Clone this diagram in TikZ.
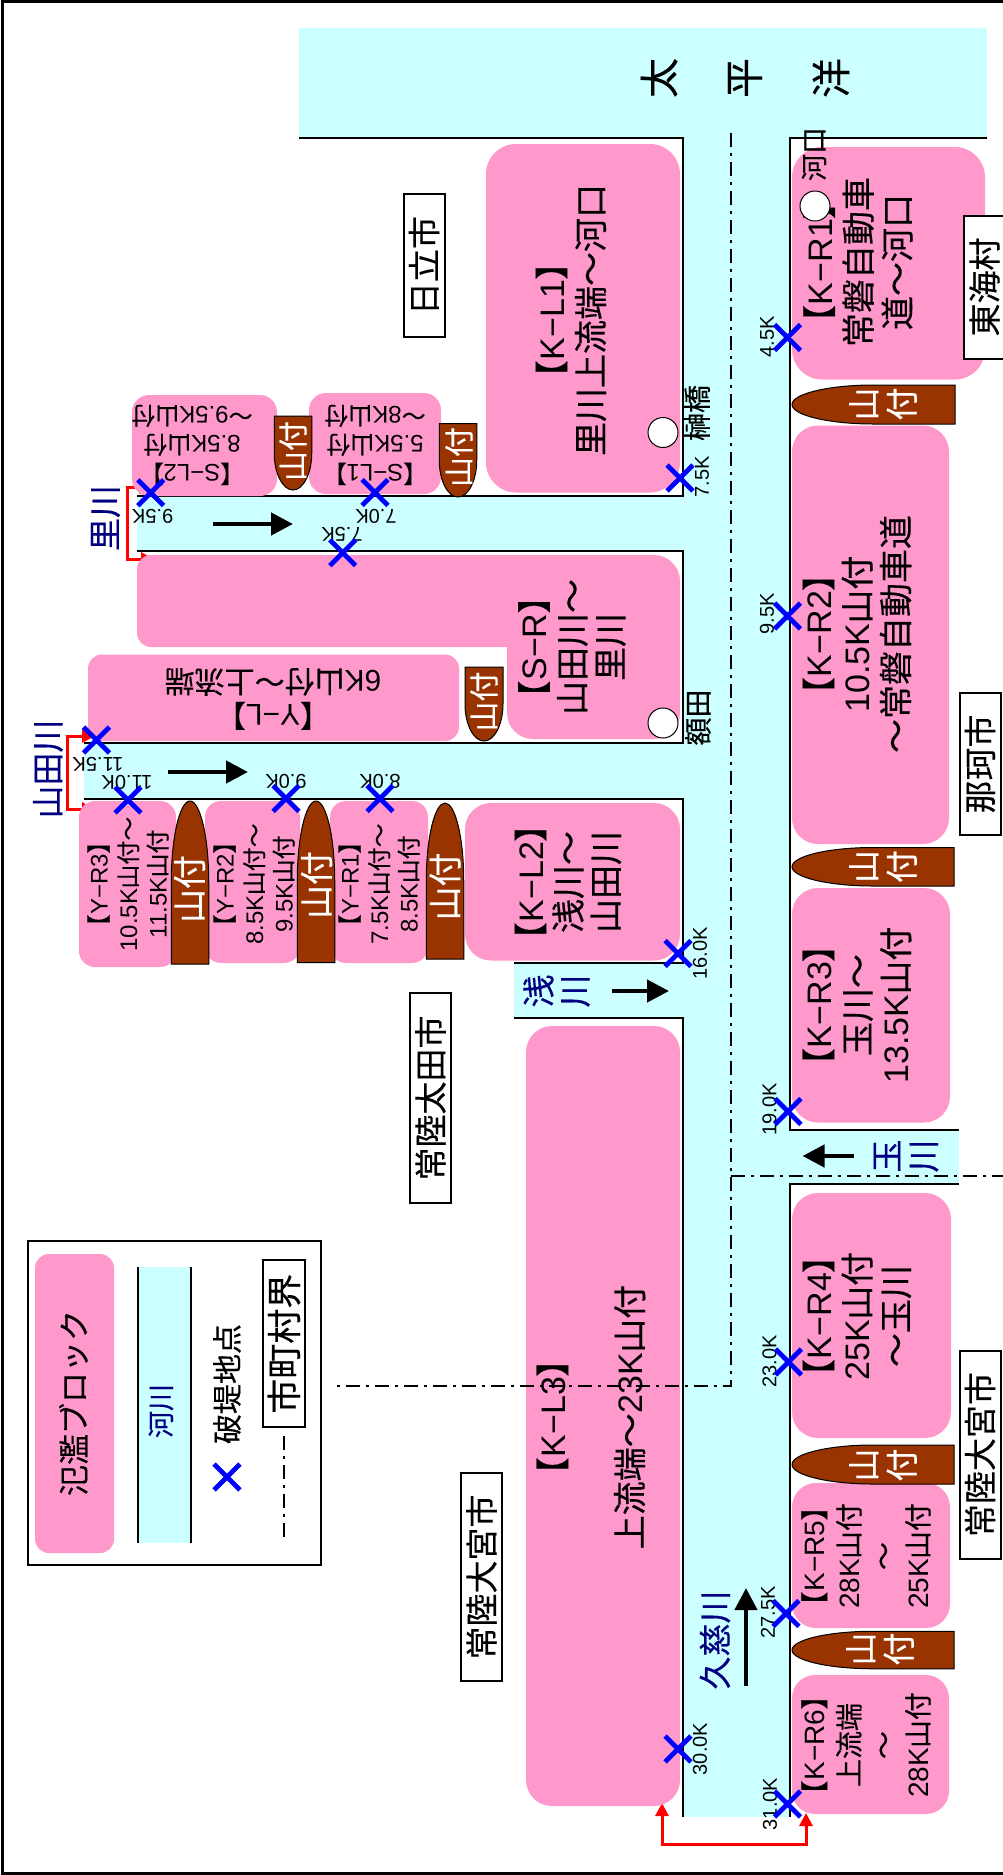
\documentclass[tikz,border=0pt]{standalone}
\usepackage{fontspec}
\usetikzlibrary{arrows.meta,shapes.misc}
\setmainfont{Liberation Sans}
\newfontfamily\jp[FakeBold=0.3]{Noto Sans CJK JP}
\newcommand\J[1]{{\jp #1}}
\newcommand\lb{{\jp 【}}
\newcommand\rb{{\jp 】}}
\newcommand\wv{{\jp ～}}
\newcommand\ymt{{\jp 山付}}
\definecolor{blockpink}{HTML}{FF99CC}
\definecolor{rivercyan}{HTML}{CCFFFF}
\definecolor{yamabrown}{HTML}{993300}
\definecolor{rivernavy}{HTML}{000080}
\newcommand\fsz[2]{\fontsize{#1pt}{#2pt}\selectfont}
\newcommand\yama[5]{%
  \begin{scope}[shift={(#1,#2)},rotate=#3]
  \draw[yamashape] (0,-#5/2) -- (-#4/2,-#5/2) .. controls (-#4*0.775,-#5/2) and (-#4,-#5*0.275) .. (-#4,0)
     .. controls (-#4,#5*0.275) and (-#4*0.775,#5/2) .. (-#4/2,#5/2) -- (0,#5/2) -- cycle;
  \end{scope}}
\tikzset{
  x=1pt,y=-1pt,
  block/.style={fill=blockpink},
  river/.style={fill=rivercyan},
  bank/.style={draw=black,line width=2pt},
  yamashape/.style={draw=black,line width=1pt,fill=yamabrown},
  tx/.style={rotate=90,align=center,inner sep=0pt,text=black},
  tu/.style={rotate=180,align=center,inner sep=0pt,text=black},
  ymtext/.style={tx,text=white},
  rivername/.style={tx,text=rivernavy,font=\fsz{33}{37}\jp},
  km/.style={tx,font=\fsz{20}{22}},
  kmu/.style={tu,font=\fsz{20}{22}},
  city/.style={rotate=90,draw=black,line width=2pt,fill=white,inner sep=0pt,minimum height=41pt,font=\fsz{33}{37}\jp},
  breach/.style={cross out,draw=blue,line width=4.8pt,minimum width=21pt,minimum height=21pt,inner sep=0pt},
  bridge/.style={circle,draw=black,line width=1pt,fill=white,minimum size=30pt,inner sep=0pt},
  flow/.style={line width=4.5pt,-{Triangle[length=22pt,width=22pt]},draw=black},
  redline/.style={draw=red,line width=3pt,{Triangle[length=13pt,width=13pt]}-{Triangle[length=13pt,width=13pt]}},
  border/.style={draw=black,line width=2pt,dash pattern=on 14pt off 6pt on 3pt off 6pt},
}
\begin{document}
\begin{tikzpicture}
\clip (0,0) rectangle (1003,1875);
\fill[white] (0,0) rectangle (1003,1875);
\draw[black,line width=3pt] (2,1.5) rectangle (1010,1873);
% water
\fill[river] (299,28) rectangle (987,138);
\fill[river] (683,138) rectangle (790,1817);
\fill[river] (137,496) rectangle (683,551);
\fill[river] (84,743) rectangle (683,799);
\fill[river] (514,963) rectangle (683,1018);
\fill[river] (790,1130) rectangle (959,1184);
% red brackets
\coordinate (ra1) at (662,1803); \coordinate (ra2) at (662,1844);
\coordinate (ra3) at (806,1844); \coordinate (ra4) at (806,1813);
\draw[redline] (ra1) -- (ra2) -- (ra3) -- (ra4);
\coordinate (rb1) at (152,487); \coordinate (rb2) at (127.5,487);
\coordinate (rb3) at (127.5,559); \coordinate (rb4) at (154,559);
\draw[redline] (rb1) -- (rb2) -- (rb3) -- (rb4);
\coordinate (rc1) at (95,736); \coordinate (rc2) at (67,736);
\coordinate (rc3) at (67,809); \coordinate (rc4) at (95,809);
\draw[redline] (rc1) -- (rc2) -- (rc3) -- (rc4);
% banks
\draw[bank] (299,138) -- (683,138) -- (683,496) -- (137,496);
\draw[bank] (137,551) -- (683,551) -- (683,743) -- (84,743);
\draw[bank] (84,799) -- (683,799) -- (683,963) -- (514,963);
\draw[bank] (514,1018) -- (683,1018) -- (683,1817);
\draw[bank] (987,138) -- (790,138) -- (790,1130) -- (959,1130);
\draw[bank] (959,1184) -- (790,1184) -- (790,1817);
% flood blocks
\fill[block,rounded corners=30pt] (486,144) rectangle (680,492.5);
\fill[block,rounded corners=30pt] (792,147) rectangle (985,379.5);
\fill[block,rounded corners=17pt] (132,395) rectangle (277,496);
\fill[block,rounded corners=17pt] (309,393) rectangle (441,494);
\fill[block,rounded corners=14pt] (137,555) rectangle (650,647);
\fill[block,rounded corners=26pt] (507,555) rectangle (680,739);
\fill[block,rounded corners=14pt] (88,654.5) rectangle (459,741);
\fill[block,rounded corners=26pt] (792,425.5) rectangle (949,844);
\fill[block,rounded corners=26pt] (792,888) rectangle (950,1122.5);
\fill[block,rounded corners=26pt] (792,1193) rectangle (951,1438);
\fill[block,rounded corners=24pt] (792,1483) rectangle (950,1628);
\fill[block,rounded corners=23pt] (792,1675) rectangle (949,1814);
\fill[block,rounded corners=26pt] (526,1026) rectangle (680,1806);
\fill[block,rounded corners=26pt] (465,803) rectangle (680,960.5);
\fill[block,rounded corners=16pt] (79,801) rectangle (176,967);
\fill[block,rounded corners=16pt] (205,801) rectangle (300,963);
\fill[block,rounded corners=16pt] (330,801) rectangle (428,963);
% hills
\yama{955}{404.5}{0}{163}{39}
\yama{954}{866.75}{0}{162}{38.5}
\yama{954}{1464.5}{0}{162}{39}
\yama{954}{1650}{0}{162}{37.5}
\yama{293}{416}{90}{74}{37.5}
\yama{458}{423.5}{90}{73.5}{37.5}
\yama{484}{667}{90}{74}{38}
\yama{190}{964}{-90}{163}{37.5}
\yama{316}{962.5}{-90}{161.5}{37.5}
\yama{445}{959}{-90}{156}{37.5}
% boundary lines
\coordinate (ba) at (730.5,133); \coordinate (bb) at (730.5,1386); \coordinate (bc) at (331,1386);
\coordinate (bd) at (730.5,1176); \coordinate (be) at (1003,1176);
\draw[border] (ba) -- (bb) -- (bc);
\draw[border] (bd) -- (be);
% sea
\node[tx,font=\fsz{40}{44}\jp] (sea1) at (659,78) {太};
\node[tx,font=\fsz{40}{44}\jp] (sea2) at (745,78) {平};
\node[tx,font=\fsz{40}{44}\jp] (sea3) at (831,78) {洋};
% block labels
\node[tx,font=\fsz{34}{39}] (kl1) at (571,320) {\lb K−L1\rb\\\J{里川上流端～河口}};
\node[tx,font=\fsz{34}{39}] (kr1) at (858,262) {\lb K−R1\rb\\\J{常磐自動車}\\\J{道～河口}};
\node[tx,font=\fsz{34}{38}] (sr) at (572,647) {\lb S−R\rb\\\J{山田川～}\\\J{里川}};
\node[tx,font=\fsz{34}{38.5}] (kr2) at (857,634) {\lb K−R2\rb\\10.5K\ymt\\\J{～常磐自動車道}};
\node[tx,font=\fsz{34}{38.5}] (kr3) at (857,1005) {\lb K−R3\rb\\\J{玉川～}\\13.5K\ymt};
\node[tx,font=\fsz{34}{38.5}] (kr4) at (857,1316) {\lb K−R4\rb\\25K\ymt\\\J{～玉川}};
\node[tx,font=\fsz{28}{34.5}] (kr5) at (866,1556) {\lb K−R5\rb\\28K\ymt\\\J{～}\\25K\ymt};
\node[tx,font=\fsz{28}{34.5}] (kr6) at (866,1745) {\lb K−R6\rb\\\J{上流端}\\\J{～}\\28K\ymt};
\node[tx,font=\fsz{34}{39}] (kl3) at (591,1417) {\lb K−L3\rb\\[38pt]\J{上流端～}23K\ymt};
\node[tx,font=\fsz{34}{37.5}] (kl2) at (568,882) {\lb K−L2\rb\\\J{浅川～}\\\J{山田川}};
\node[tx,font=\fsz{24}{29.5}] (yr3) at (128,884) {\lb Y−R3\rb\\10.5K\ymt\wv\\11.5K\ymt};
\node[tx,font=\fsz{24}{29.5}] (yr2) at (254,884) {\lb Y−R2\rb\\8.5K\ymt\wv\\9.5K\ymt};
\node[tx,font=\fsz{24}{29.5}] (yr1) at (379,884) {\lb Y−R1\rb\\7.5K\ymt\wv\\8.5K\ymt};
\node[tu,font=\fsz{24}{29}] (sl2) at (192,445) {\lb S−L2\rb\\8.5K\ymt\\\wv 9.5K\ymt};
\node[tu,font=\fsz{24}{29}] (sl1) at (375,445) {\lb S−L1\rb\\5.5K\ymt\\\wv 8K\ymt};
\node[tu,font=\fsz{30}{34}] (yl) at (273,699) {\lb Y−L\rb\\6K\ymt\J{～上流端}};
% hill labels
\node[ymtext,font=\fsz{33}{38}\jp] (y1) at (883,404) {山\\付};
\node[ymtext,font=\fsz{33}{38}\jp] (y2) at (883,866.5) {山\\付};
\node[ymtext,font=\fsz{33}{38}\jp] (y3) at (883,1465) {山\\付};
\node[ymtext,font=\fsz{33}{38}\jp] (y4) at (880,1649) {山\\付};
\node[ymtext,font=\fsz{30}{30}\jp] (y5) at (293,451) {山付};
\node[ymtext,font=\fsz{30}{30}\jp] (y6) at (459,457) {山付};
\node[ymtext,font=\fsz{30}{30}\jp] (y7) at (484,701.5) {山付};
\node[ymtext,font=\fsz{34}{36}\jp] (y8) at (189.5,889) {山付};
\node[ymtext,font=\fsz{34}{36}\jp] (y9) at (316.5,885) {山付};
\node[ymtext,font=\fsz{34}{36}\jp] (y10) at (445,886.5) {山付};
% river names
\node[rivername] (n1) at (715,1640) {久慈川};
\node[rivername] (n2) at (105.5,518) {里川};
\node[rivername] (n3) at (48,769) {山田川};
\node[rivername] (n4) at (538.5,991) {浅};
\node[rivername] (n4b) at (575.5,991) {川};
\node[rivername] (n5) at (887,1156) {玉};
\node[rivername] (n5b) at (924,1156) {川};
% flow arrows
\coordinate (fa1) at (212.5,524); \coordinate (fa2) at (293,524);
\coordinate (fb1) at (167.5,772); \coordinate (fb2) at (248,772);
\coordinate (fc1) at (612,991); \coordinate (fc2) at (669,991);
\coordinate (fd1) at (854,1156); \coordinate (fd2) at (802.5,1156);
\coordinate (fe1) at (746,1685.5); \coordinate (fe2) at (746,1588);
\draw[flow] (fa1) -- (fa2);
\draw[flow] (fb1) -- (fb2);
\draw[flow] (fc1) -- (fc2);
\draw[flow] (fd1) -- (fd2);
\draw[flow] (fe1) -- (fe2);
% place labels
\node[tx,font=\fsz{27}{30}\jp] (river1) at (814,154) {河口};
\node[tx,font=\fsz{28}{30}\jp] (br1) at (697,413) {榊橋};
\node[tx,font=\fsz{28}{30}\jp] (br2) at (698,717.5) {額田};
\node[bridge] (c1) at (815,206) {};
\node[bridge] (c2) at (663,432.5) {};
\node[bridge] (c3) at (663,723) {};
% km labels
\node[km] at (702,477) (k1) {7.5K};
\node[km] at (767,337) (k2) {4.5K};
\node[km] at (767,614) (k3) {9.5K};
\node[kmu] at (152.7,516) (k4) {9.5K};
\node[kmu] at (376,516) (k5) {7.0K};
\node[kmu] at (342,534) (k6) {7.5K};
\node[kmu] at (98,764) (k7) {11.5K};
\node[kmu] at (127,782) (k8) {11.0K};
\node[kmu] at (286,781) (k9) {9.0K};
\node[kmu] at (380,781) (k10) {8.0K};
\node[km] at (700,953.5) (k11) {16.0K};
\node[km] at (769.5,1109.5) (k12) {19.0K};
\node[km] at (769.5,1361.5) (k13) {23.0K};
\node[km] at (768,1612.5) (k14) {27.5K};
\node[km] at (700,1749) (k15) {30.0K};
\node[km] at (770,1804) (k16) {31.0K};
% breach marks
\node[breach] (x1) at (680,478) {};
\node[breach] (x2) at (787.5,337.5) {};
\node[breach] (x3) at (787.5,616) {};
\node[breach] (x4) at (150.7,492.7) {};
\node[breach] (x5) at (375,492.5) {};
\node[breach] (x6) at (342.7,552.7) {};
\node[breach] (x7) at (96.5,740) {};
\node[breach] (x8) at (128,800) {};
\node[breach] (x9) at (286,798.5) {};
\node[breach] (x10) at (380,798.5) {};
\node[breach] (x11) at (678,953.5) {};
\node[breach] (x12) at (788,1111.5) {};
\node[breach] (x13) at (788.5,1362) {};
\node[breach] (x14) at (786,1613.5) {};
\node[breach] (x15) at (678,1749) {};
\node[breach] (x16) at (787.5,1804) {};
% city boxes
\node[city,minimum width=143pt] (c-hitachi) at (424,265.5) {日立市};
\node[city,minimum width=143pt] (c-tokai) at (984.5,287) {東海村};
\node[city,minimum width=142pt] (c-naka) at (980,764) {那珂市};
\node[city,minimum width=209.5pt] (c-ota) at (430.5,1098) {常陸太田市};
\node[city,minimum width=208pt] (c-omiya1) at (980,1454.5) {常陸大宮市};
\node[city,minimum width=208pt] (c-omiya2) at (481.5,1577) {常陸大宮市};
% legend
\draw[black,fill=white,line width=2pt] (27.5,1241) rectangle (320.5,1565);
\fill[block,rounded corners=14pt] (35,1254) rectangle (114,1553);
\node[tx,font=\fsz{31}{34}\jp] (lg1) at (73.5,1403) {氾濫ブロック};
\fill[river] (137.5,1267) rectangle (190.5,1542.6);
\draw[bank] (137.5,1267) -- (137.5,1542.6);
\draw[bank] (190.5,1267) -- (190.5,1542.6);
\node[tx,text=rivernavy,font=\fsz{27}{30}\jp] (lg2) at (161,1411) {河川};
\node[tx,font=\fsz{30}{34}\jp] (lg3) at (227,1384) {破堤地点};
\node[breach] (lg4) at (227,1477) {};
\node[city,minimum width=167.5pt,minimum height=41.5pt,font=\fsz{35}{38}\jp] (lg5) at (284,1343.7) {市町村界};
\coordinate (lg6) at (284,1436); \coordinate (lg7) at (284,1542);
\draw[border] (lg6) -- (lg7);
\end{tikzpicture}
\end{document}
